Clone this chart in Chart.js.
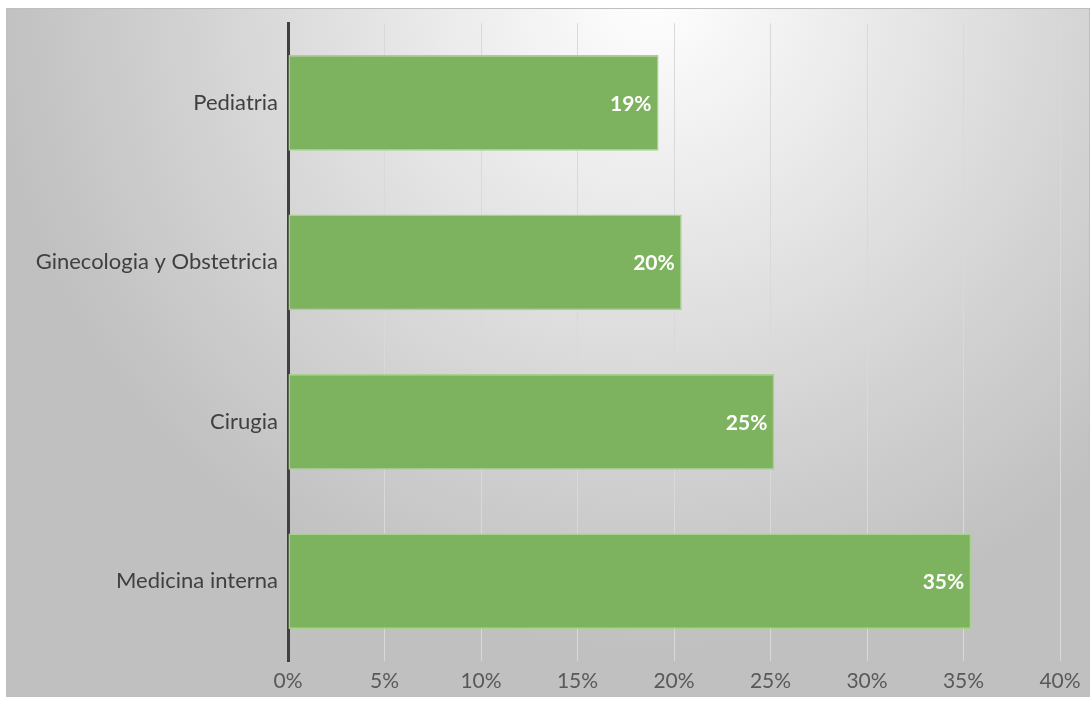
<!DOCTYPE html>
<html><head><meta charset="utf-8">
<script src="https://cdn.jsdelivr.net/npm/chart.js@4/dist/chart.umd.min.js"></script>
<style>html,body{margin:0;padding:0;background:#fff}#wrap{width:1091px;height:703px}</style>
</head><body><div id="wrap"><canvas id="c" width="1091" height="703"></canvas></div>
<script>
const categories = ['Pediatria', 'Ginecologia y Obstetricia', 'Cirugia', 'Medicina interna'];
const values = [19.2, 20.4, 25.2, 35.4];
const valueLabels = ['19%', '20%', '25%', '35%'];
const xTicks = [0, 5, 10, 15, 20, 25, 30, 35, 40];

const FONT = 'Lato, "Open Sans", sans-serif';

const bgPlugin = {
  id: 'bg',
  beforeDraw(chart) {
    const ctx = chart.ctx;
    ctx.save();
    ctx.fillStyle = '#ffffff';
    ctx.fillRect(0, 0, chart.width, chart.height);
    const x0 = 6, y0 = 8, x1 = 1090, y1 = 697;
    const g = ctx.createRadialGradient(650, -10, 0, 650, -10, 660);
    g.addColorStop(0, '#ffffff');
    g.addColorStop(0.3, '#ececec');
    g.addColorStop(0.7, '#d2d2d2');
    g.addColorStop(1, '#c0c0c0');
    ctx.fillStyle = g;
    ctx.fillRect(x0, y0, x1 - x0, y1 - y0);
    ctx.strokeStyle = '#bfbfbf';
    ctx.lineWidth = 1;
    ctx.strokeRect(x0 + 0.5, y0 + 0.5, x1 - x0 - 1, y1 - y0 - 1);
    ctx.restore();
  }
};

const labelPlugin = {
  id: 'vlabels',
  afterDatasetsDraw(chart) {
    const ctx = chart.ctx;
    const meta = chart.getDatasetMeta(0);
    ctx.save();
    ctx.fillStyle = '#ffffff';
    ctx.font = 'bold 21px ' + FONT;
    ctx.textAlign = 'right';
    ctx.textBaseline = 'middle';
    meta.data.forEach((bar, i) => {
      ctx.fillText(valueLabels[i], bar.x - 7, bar.y + 1);
    });
    ctx.restore();
  }
};

new Chart(document.getElementById('c'), {
  type: 'bar',
  data: {
    labels: categories,
    datasets: [{
      data: values,
      backgroundColor: '#7db35e',
      borderColor: '#a9d18e',
      borderWidth: 1.5,
      borderSkipped: false,
      categoryPercentage: 0.6,
      barPercentage: 1.0
    }]
  },
  options: {
    indexAxis: 'y',
    responsive: false,
    animation: false,
    layout: { padding: { left: 6, right: 31, top: 23, bottom: 6 } },
    plugins: { legend: { display: false }, tooltip: { enabled: false } },
    scales: {
      x: {
        min: 0, max: 40,
        afterBuildTicks(s) { s.ticks = xTicks.map(v => ({ value: v })); },
        afterFit(s) { s.height = 703 - 661 - 6; },
        grid: { color: '#d9d9d9', lineWidth: 1, drawTicks: false },
        border: { display: false },
        ticks: {
          padding: 8,
          color: '#595959',
          font: { family: FONT, size: 21 },
          callback: (v) => v + '%'
        }
      },
      y: {
        afterFit(s) { s.width = 288 - 6; },
        grid: { display: false, drawTicks: false },
        border: { display: true, color: '#404040', width: 3 },
        ticks: {
          padding: 10,
          color: '#404040',
          font: { family: FONT, size: 22 }
        }
      }
    }
  },
  plugins: [bgPlugin, labelPlugin]
});
</script>
</body></html>
